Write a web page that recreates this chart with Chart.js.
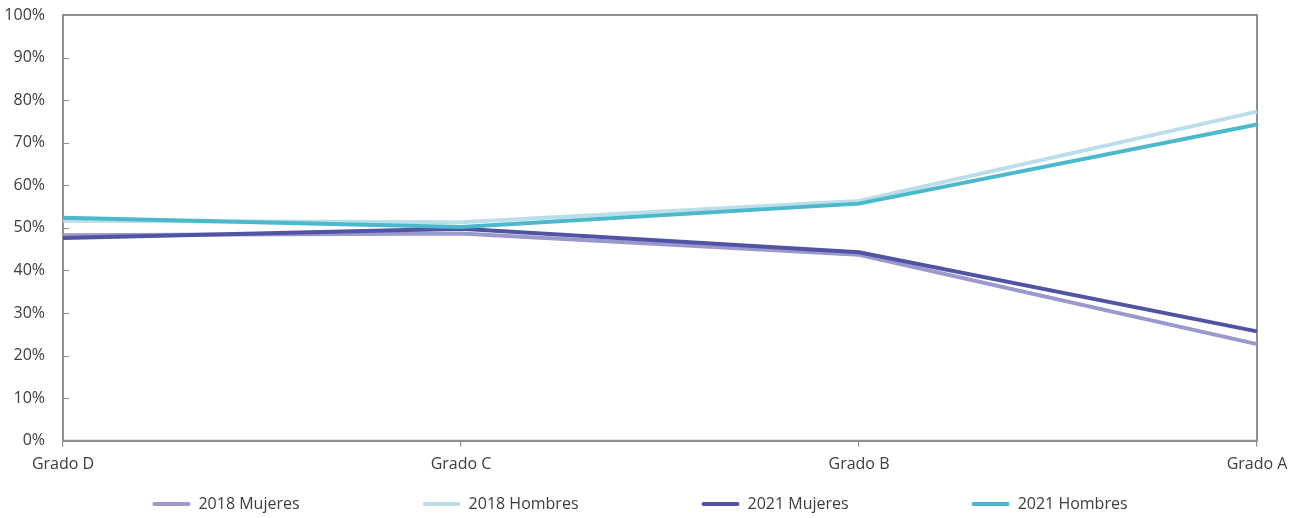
<!DOCTYPE html>
<html>
<head>
<meta charset="utf-8">
<script src="https://cdn.jsdelivr.net/npm/chart.js@4/dist/chart.umd.min.js"></script>
<style>
  html, body { margin: 0; padding: 0; background: #ffffff; }
  #wrap { width: 1304px; height: 518px; position: relative; }
</style>
</head>
<body>
<div id="wrap"><canvas id="chart"></canvas></div>
<script>
// Categories along the x axis
const grados = ['Grado D', 'Grado C', 'Grado B', 'Grado A'];

// Share of each grade (%), by year and sex
const mujeres2018 = [48.3, 48.7, 43.7, 22.7];
const hombres2018 = [51.7, 51.3, 56.3, 77.3];
const mujeres2021 = [47.6, 49.8, 44.3, 25.7];
const hombres2021 = [52.4, 50.2, 55.7, 74.3];

// Y-axis tick values (%)
const yTicks = [0, 10, 20, 30, 40, 50, 60, 70, 80, 90, 100];

const seriesNames = ['2018 Mujeres', '2018 Hombres', '2021 Mujeres', '2021 Hombres'];
const seriesColors = ['#9b98cd', '#badfe8', '#5153a3', '#4bb9cb'];
const seriesValues = [mujeres2018, hombres2018, mujeres2021, hombres2021];

const FONT = '"Open Sans", "DejaVu Sans", sans-serif';
const FONT_SIZE = 16;
const TEXT = '#3d3d3d';
const AXIS = '#8f8f8f';

// Frame around the plot area plus short inward ticks on the y axis
const framePlugin = {
  id: 'frame',
  beforeDatasetsDraw(chart) {
    const { ctx, chartArea: a, scales: { y } } = chart;
    ctx.save();
    ctx.strokeStyle = AXIS;
    ctx.lineWidth = 2;
    ctx.strokeRect(a.left, a.top, a.right - a.left, a.bottom - a.top);
    ctx.lineWidth = 1.2;
    ctx.beginPath();
    yTicks.forEach(v => {
      const py = Math.round(y.getPixelForValue(v)) + 0.5;
      ctx.moveTo(a.left, py);
      ctx.lineTo(a.left + 6, py);
    });
    ctx.stroke();
    ctx.restore();
  }
};

// Legend row below the x axis, drawn with wide spacing between entries
const legendRow = {
  id: 'legendRow',
  afterDraw(chart) {
    const { ctx } = chart;
    const lineLen = 38, textGap = 8, itemGap = 123;
    const yMid = 504;
    ctx.save();
    ctx.font = FONT_SIZE + 'px ' + FONT;
    const widths = chart.data.datasets.map(d => lineLen + textGap + ctx.measureText(d.label).width);
    const total = widths.reduce((s, w) => s + w, 0) + itemGap * (widths.length - 1);
    let x = chart.width / 2 - 12 - total / 2;
    chart.data.datasets.forEach((d, i) => {
      ctx.strokeStyle = d.borderColor;
      ctx.lineWidth = 4;
      ctx.lineCap = 'round';
      ctx.beginPath();
      ctx.moveTo(x + 2, yMid);
      ctx.lineTo(x + lineLen - 2, yMid);
      ctx.stroke();
      ctx.fillStyle = TEXT;
      ctx.textBaseline = 'middle';
      ctx.textAlign = 'left';
      ctx.fillText(d.label, x + lineLen + textGap, yMid);
      x += widths[i] + itemGap;
    });
    ctx.restore();
  }
};

new Chart(document.getElementById('chart'), {
  type: 'line',
  data: {
    labels: grados,
    datasets: seriesNames.map((name, i) => ({
      label: name,
      data: seriesValues[i],
      borderColor: seriesColors[i],
      backgroundColor: seriesColors[i],
      borderWidth: 4,
      pointRadius: 0,
      pointHoverRadius: 0,
      tension: 0,
      fill: false,
      order: seriesNames.length - i
    }))
  },
  options: {
    responsive: true,
    maintainAspectRatio: false,
    animation: false,
    layout: { padding: { top: 15, right: 47, bottom: 36, left: 0 } },
    plugins: {
      legend: { display: false },
      tooltip: { enabled: false }
    },
    scales: {
      x: {
        offset: false,
        border: { display: true, color: AXIS, width: 2 },
        grid: { display: true, drawOnChartArea: false, drawTicks: true, tickLength: 6, color: AXIS, lineWidth: 1.2 },
        ticks: { color: TEXT, font: { family: FONT, size: FONT_SIZE }, padding: 8, maxRotation: 0, autoSkip: false },
        afterFit(scale) { scale.paddingLeft = 0; scale.paddingRight = 0; }
      },
      y: {
        min: 0,
        max: 100,
        afterFit(scale) { scale.width = 63; scale.paddingTop = 0; scale.paddingBottom = 0; },
        afterBuildTicks(scale) { scale.ticks = yTicks.map(v => ({ value: v })); },
        border: { display: true, color: AXIS, width: 2 },
        grid: { display: false, drawTicks: false },
        ticks: {
          color: TEXT,
          font: { family: FONT, size: FONT_SIZE },
          padding: 18,
          callback: v => v + '%'
        }
      }
    }
  },
  plugins: [framePlugin, legendRow]
});
</script>
</body>
</html>
